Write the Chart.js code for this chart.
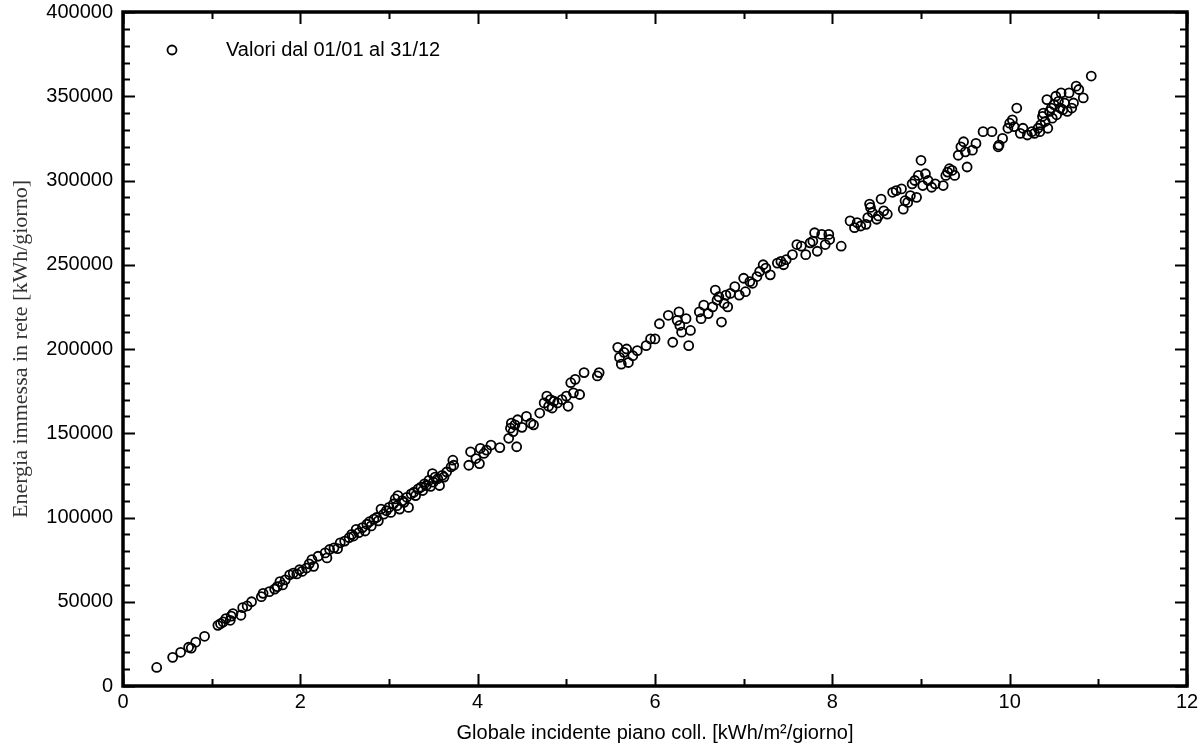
<!DOCTYPE html>
<html>
<head>
<meta charset="utf-8">
<script src="https://cdn.jsdelivr.net/npm/chart.js@4/dist/chart.umd.min.js"></script>
<style>
  html, body { margin: 0; padding: 0; background: #fff; }
  #wrap { width: 1199px; height: 749px; }
</style>
</head>
<body>
<div id="wrap"><canvas id="scatter"></canvas></div>
<script>
/* ── Data ── */
const SERIES_LABEL = 'Valori dal 01/01 al 31/12';
const X_TITLE = 'Globale incidente piano coll. [kWh/m²/giorno]';
const Y_TITLE = 'Energia immessa in rete [kWh/giorno]';

// irradiation kWh/m²/day
const IRR = [
  0.38, 0.56, 0.65, 0.74, 0.77, 0.82, 0.92,
  1.07, 1.10, 1.13, 1.16, 1.21, 1.22, 1.24, 1.33, 1.35, 1.40, 1.45, 1.56, 1.58, 1.65,
  1.71, 1.74, 1.77, 1.80, 1.83, 1.88, 1.92, 1.96, 1.99, 2.02,
  2.07, 2.10, 2.13, 2.15, 2.20, 2.28, 2.30, 2.33, 2.38, 2.42, 2.45, 2.50, 2.55, 2.58,
  2.60, 2.63, 2.66, 2.70, 2.73, 2.75, 2.78, 2.80, 2.83, 2.86, 2.88, 2.91, 2.94, 2.97, 3.00,
  3.02, 3.05, 3.07, 3.09, 3.10, 3.12, 3.15, 3.17, 3.20, 3.22, 3.25, 3.28, 3.30, 3.33,
  3.36, 3.38, 3.40, 3.42, 3.45, 3.47, 3.49, 3.50, 3.52, 3.55, 3.57, 3.60, 3.62, 3.65,
  3.70, 3.72, 3.73,
  3.90, 3.92, 3.98, 4.02, 4.03, 4.07, 4.10, 4.15, 4.25, 4.35, 4.37, 4.38, 4.40, 4.42,
  4.44, 4.45, 4.50, 4.55, 4.60, 4.63, 4.70, 4.75, 4.78, 4.80, 4.82, 4.84, 4.86, 4.90,
  4.95, 5.00, 5.02, 5.05, 5.08, 5.10, 5.15, 5.20, 5.35, 5.37,
  5.58, 5.60, 5.62, 5.65, 5.68, 5.70, 5.75, 5.80, 5.90, 5.95, 6.00, 6.05, 6.15, 6.20,
  6.25, 6.27, 6.28, 6.30, 6.35, 6.38, 6.40, 6.50, 6.52, 6.55, 6.60, 6.65, 6.68, 6.70,
  6.72, 6.75, 6.78, 6.80, 6.82, 6.85, 6.90, 6.95,
  7.00, 7.02, 7.07, 7.10, 7.15, 7.18, 7.22, 7.25, 7.30, 7.38, 7.42, 7.45, 7.48, 7.55,
  7.60, 7.65, 7.70, 7.75, 7.78, 7.80, 7.83, 7.88, 7.92, 7.96, 7.97, 8.10,
  8.20, 8.25, 8.28, 8.32, 8.38, 8.40, 8.42, 8.43, 8.45, 8.50, 8.52, 8.55, 8.58, 8.62,
  8.68, 8.72, 8.78, 8.80, 8.82, 8.85, 8.88, 8.90, 8.93, 8.95, 8.97, 9.00, 9.02, 9.05,
  9.08, 9.12, 9.16,
  9.25, 9.28, 9.30, 9.32, 9.35, 9.38, 9.42, 9.45, 9.48, 9.50, 9.52, 9.58, 9.62, 9.70,
  9.80, 9.87, 9.88, 9.92, 9.98, 10.00, 10.03, 10.05, 10.08, 10.12, 10.15, 10.20, 10.25,
  10.28, 10.32, 10.34, 10.35, 10.37, 10.38, 10.40, 10.42, 10.43, 10.45, 10.47, 10.48,
  10.50, 10.52, 10.53, 10.55, 10.57, 10.58, 10.60, 10.62, 10.65, 10.67, 10.70, 10.72,
  10.75, 10.78, 10.83, 10.92
];

// energy to grid kWh/day
const ENERGY = [
  11000, 17000, 20000, 23000, 22500, 26000, 29500,
  36000, 37000, 38000, 40000, 39000, 41500, 43000, 42000, 46500, 47500, 50000, 53000, 55000, 56000,
  57500, 59000, 62000, 60000, 63000, 66000, 67000, 66500, 69000, 68000,
  70000, 72500, 75000, 71000, 77000, 79000, 76000, 81000, 82000, 81500, 85000, 86000, 88000, 90000,
  89000, 93000, 91000, 94000, 92000, 96000, 97500, 95000, 99000, 100000, 98000, 105000, 102000, 104000, 106000,
  103000, 108000, 111000, 107000, 113000, 105000, 110000, 109000, 112000, 106000, 114000, 115000, 113000, 117000,
  118000, 116000, 120000, 119000, 122000, 118500, 126000, 121000, 124000, 123000, 119000, 125000, 124000, 127000,
  130000, 134000, 131000,
  131000, 139000, 135000, 132000, 141000, 138000, 140000, 143000, 141500, 147000, 153000, 156000, 151000, 155000,
  142000, 158000, 153500, 160000, 156000, 155000, 162000, 168000, 172000, 166000, 170000, 165000, 169000, 168000,
  170000, 172000, 166000, 180000, 174000, 182000, 173000, 186000, 184000, 186000,
  201000, 195000, 191000, 198000, 200000, 192000, 196000, 199000, 202000, 206000, 206000, 215000, 220000, 204000,
  217000, 222000, 214000, 210000, 218000, 202000, 211000, 222000, 218000, 226000, 221000, 225000, 235000, 229000,
  231000, 216000, 227000, 232000, 225000, 233000, 237000, 232000,
  242000, 234000, 240000, 239000, 243000, 246000, 250000, 248000, 244000, 251000, 252000, 250000, 253000, 256000,
  262000, 261000, 256000, 263000, 264000, 269000, 258000, 268000, 262000, 268000, 265000, 261000,
  276000, 272000, 275000, 273000, 274000, 278000, 286000, 284000, 281000, 277000, 279000, 289000, 282000, 280000,
  293000, 294000, 295000, 283000, 288000, 287000, 291000, 298000, 300000, 290000, 303000, 312000, 297000, 304000,
  300000, 296000, 298000,
  297000, 303000, 305000, 307000, 306000, 303000, 315000, 320000, 323000, 317000, 308000, 318000, 322000, 329000,
  329000, 320000, 321000, 325000, 331000, 334000, 336000, 332000, 343000, 328000, 331000, 327000, 329000,
  328000, 331000, 329000, 333000, 338000, 340000, 335000, 348000, 331000, 341000, 343000, 337000,
  345000, 350000, 339000, 347000, 343000, 352000, 342000, 346000, 341000, 352000, 343000, 346000,
  356000, 354000, 349000, 362000
];

const X_MIN = 0, X_MAX = 12, X_STEP = 2, X_MINOR = 1;
const Y_MIN = 0, Y_MAX = 400000, Y_STEP = 50000, Y_MINOR = 10000;

const POINTS = IRR.map((x, i) => ({ x, y: ENERGY[i] }));

const SANS = '"Liberation Sans", Arial, sans-serif';

/* ── Frame + inward ticks + inset legend ── */
const framePlugin = {
  id: 'frame',
  afterDraw(chart) {
    const { ctx, chartArea: a, scales } = chart;
    const xs = scales.x, ys = scales.y;
    ctx.save();
    ctx.strokeStyle = '#000';
    ctx.lineWidth = 2;
    ctx.beginPath();
    for (let v = X_MIN; v <= X_MAX + 1e-9; v += X_MINOR) {
      const px = Math.round(xs.getPixelForValue(v)) + 0.5;
      const len = (v % X_STEP === 0) ? 12 : 7;
      ctx.moveTo(px, a.bottom); ctx.lineTo(px, a.bottom - len);
      ctx.moveTo(px, a.top);    ctx.lineTo(px, a.top + len);
    }
    for (let v = Y_MIN; v <= Y_MAX + 1e-9; v += Y_MINOR) {
      const py = Math.round(ys.getPixelForValue(v)) + 0.5;
      const len = (v % Y_STEP === 0) ? 12 : 7;
      ctx.moveTo(a.left, py);  ctx.lineTo(a.left + len, py);
      ctx.moveTo(a.right, py); ctx.lineTo(a.right - len, py);
    }
    ctx.stroke();

    ctx.lineWidth = 3.5;
    ctx.strokeRect(a.left, a.top, a.right - a.left, a.bottom - a.top);

    // legend inside the plot
    ctx.lineWidth = 1.8;
    ctx.beginPath();
    ctx.arc(a.left + 49, a.top + 38, 4.5, 0, Math.PI * 2);
    ctx.stroke();
    ctx.fillStyle = '#000';
    ctx.font = '20px ' + SANS;
    ctx.textBaseline = 'middle';
    ctx.textAlign = 'left';
    ctx.fillText(chart.data.datasets[0].label, a.left + 103, a.top + 38);
    ctx.restore();
  },
};

new Chart(document.getElementById('scatter'), {
  type: 'scatter',
  plugins: [framePlugin],
  data: {
    datasets: [{
      label:           SERIES_LABEL,
      data:            POINTS,
      pointStyle:      'circle',
      pointRadius:     4.5,
      pointHoverRadius: 4.5,
      borderWidth:     1.8,
      borderColor:     '#000',
      backgroundColor: 'rgba(0,0,0,0)',
    }],
  },
  options: {
    responsive:          true,
    maintainAspectRatio: false,
    animation:           false,
    layout: { padding: { top: 0, right: 0, left: 0, bottom: 0 } },
    plugins: {
      legend:  { display: false },
      tooltip: { enabled: false },
    },
    scales: {
      x: {
        type: 'linear',
        min: X_MIN, max: X_MAX,
        grid:   { display: false, drawTicks: false },
        border: { display: false },
        ticks: {
          stepSize: X_STEP,
          color: '#000',
          padding: 4,
          font: { family: SANS, size: 20 },
        },
        title: {
          display: true,
          text: X_TITLE,
          color: '#000',
          padding: { top: 0, bottom: 4 },
          font: { family: SANS, size: 20 },
        },
        afterFit: s => { s.height = 63; s.paddingLeft = 0; s.paddingRight = 12; },
      },
      y: {
        type: 'linear',
        min: Y_MIN, max: Y_MAX,
        grid:   { display: false, drawTicks: false },
        border: { display: false },
        ticks: {
          stepSize: Y_STEP,
          color: '#000',
          padding: 10,
          font: { family: SANS, size: 20 },
          callback: v => String(v),
        },
        title: {
          display: true,
          text: Y_TITLE,
          color: '#333',
          padding: { top: 8, bottom: 0 },
          font: { family: '"Liberation Serif", "Times New Roman", serif', size: 22 },
        },
        afterFit: s => { s.width = 123; s.paddingTop = 12; s.paddingBottom = 0; },
      },
    },
  },
});
</script>
</body>
</html>
